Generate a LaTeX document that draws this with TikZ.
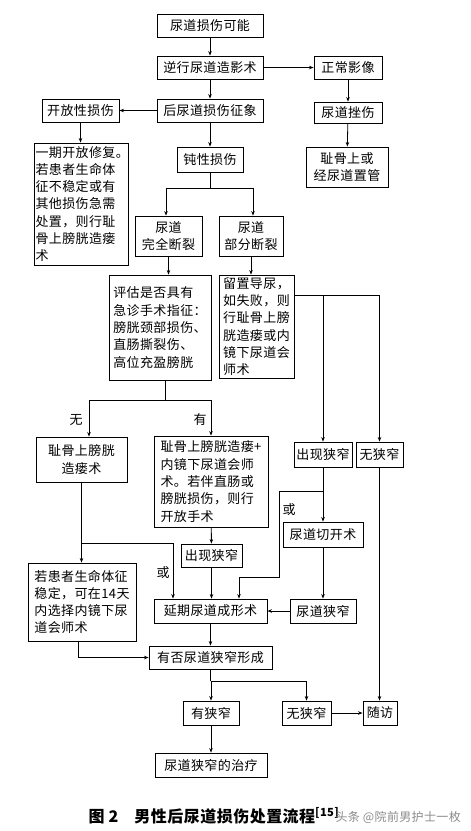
\documentclass[tikz,border=0pt]{standalone}
\usepackage{fontspec}
\setmainfont[LetterSpace=3]{Noto Sans CJK SC}
\usetikzlibrary{arrows.meta}

\begin{document}
\begin{tikzpicture}[x=1pt,y=-1pt,
  box/.style={draw,line width=0.9pt,inner sep=1.5pt,font=\fontsize{13}{17.3}\selectfont},
  txtbox/.style={box,align=left},
  link/.style={line width=0.8pt,-{Stealth[length=4.5pt,width=3.5pt]}},
  wire/.style={line width=0.8pt},
  lbl/.style={font=\fontsize{13}{15}\selectfont}]

\fill[white] (0,0) rectangle (471,831);
\useasboundingbox (0,0) rectangle (471,831);

% boxes
\node[box,minimum width=106,minimum height=23] (start) at (210,25.5) {尿道损伤可能};
\node[box,minimum width=106,minimum height=23] (rug) at (210,67.5) {逆行尿道造影术};
\node[box,minimum width=68,minimum height=23] (normal) at (348,67.5) {正常影像};
\node[box,minimum width=77,minimum height=23] (open) at (80.5,110.5) {开放性损伤};
\node[box,minimum width=106,minimum height=23] (post) at (210,110.5) {后尿道损伤征象};
\node[box,minimum width=68,minimum height=21] (contusion) at (348,112.5) {尿道挫伤};
\node[txtbox,text width=91,minimum height=122] (repair) at (81,204)
  {一期开放修复。\\若患者生命体\\征不稳定或有\\其他损伤急需\\处置，则行耻\\骨上膀胱造瘘\\术};
\node[box,minimum width=66,minimum height=25] (blunt) at (210,159.5) {钝性损伤};
\node[box,align=center,minimum width=82,minimum height=40] (catheter) at (347,167) {耻骨上或\\经尿道置管};
\node[box,align=center,minimum width=67,minimum height=40] (complete) at (168.5,236) {尿道\\完全断裂};
\node[box,align=center,minimum width=64,minimum height=40] (partial) at (251,236) {尿道\\部分断裂};
\node[txtbox,minimum width=102,minimum height=105] (assess) at (160,327.5)
  {评估是否具有\\急诊手术指征：\\膀胱颈部损伤、\\直肠撕裂伤、\\高位充盈膀胱};
\node[txtbox,minimum width=75,minimum height=103] (indwell) at (256.5,326.5)
  {留置导尿，\\如失败，则\\行耻骨上膀\\胱造瘘或内\\镜下尿道会\\师术};
\node[box,align=center,minimum width=91,minimum height=45] (cysto) at (81.5,459.5) {耻骨上膀胱\\造瘘术};
\node[txtbox,minimum width=114,minimum height=91] (combo) at (211,481.5)
  {耻骨上膀胱造瘘+\\内镜下尿道会师\\术。若伴直肠或\\膀胱损伤，则行\\开放手术};
\node[box,minimum width=58,minimum height=25] (strictR) at (323,454.5) {出现狭窄};
\node[box,minimum width=47,minimum height=25] (nostrR) at (379.5,454.5) {无狭窄};
\node[box,minimum width=80,minimum height=25] (urethrotomy) at (323,534.5) {尿道切开术};
\node[box,minimum width=61,minimum height=23] (strictM) at (211.5,555.5) {出现狭窄};
\node[txtbox,minimum width=108,minimum height=78] (stable) at (82,602)
  {若患者生命体征\\稳定，可在14天\\内选择内镜下尿\\道会师术};
\node[box,minimum width=113,minimum height=24] (delayed) at (210.5,611) {延期尿道成形术};
\node[box,minimum width=66,minimum height=24] (stricture) at (323,611) {尿道狭窄};
\node[box,minimum width=123,minimum height=23] (whether) at (210.5,657.5) {有否尿道狭窄形成};
\node[box,minimum width=56,minimum height=24] (yes) at (211,713) {有狭窄};
\node[box,minimum width=49,minimum height=24] (no) at (306.5,713) {无狭窄};
\node[box,minimum width=34,minimum height=24] (follow) at (380,713) {随访};
\node[box,minimum width=112,minimum height=24] (treat) at (211,765) {尿道狭窄的治疗};

% labels
\node[lbl] (nolbl) at (76,420) {无};
\node[lbl] (yeslbl) at (200,420) {有};
\node[lbl] (orleft) at (163,573) {或};
\node[lbl] (orright) at (289,510) {或};

% connectors
\draw[link] (start) -- (rug);
\draw[link] (rug) -- (normal);
\draw[link] (rug) -- (post);
\draw[link] (normal) -- (contusion);
\draw[link] (post) -- (open);
\draw[link] (contusion) -- (catheter);
\draw[link] (open.south) -- (open.south |- repair.north);
\draw[link] (post) -- (blunt);
\draw[wire] (blunt.south) -- ++(0,16) coordinate (bsplit);
\draw[link] (bsplit) -| ([xshift=-2.5pt]complete.north);
\draw[link] (bsplit) -| ([xshift=2pt]partial.north);
\draw[link] (complete.south) -- (complete.south |- assess.north);
\draw[link] (partial.south) -- (partial.south |- indwell.north);

\coordinate (iout) at ([yshift=-21pt]indwell.north east);
\draw[link] (iout) -| (nostrR.north);
\draw[link] (iout -| strictR.north) -- (strictR.north);

\draw[wire] ([xshift=5pt]assess.south) -- ++(0,20) coordinate (asplit);
\draw[link] (asplit) -| ([xshift=7.5pt]cysto.north);
\draw[link] (asplit) -| (combo.north);

\draw[link] (cysto.south) -- (cysto.south |- stable.north);
\path (cysto.south) ++(0,61) coordinate (cbranch);
\draw[link] (cbranch) -| ([xshift=-37.5pt]delayed.north);
\draw[link] (combo) -- (strictM);
\draw[link] (strictM) -- (strictM |- delayed.north);

\draw[link] (strictR) -- (urethrotomy);
\path (strictR.south) ++(0,24) coordinate (rbranch);
\draw[link] (rbranch) -- ++(-44,0) -- ++(0,86) -| ([xshift=28.5pt]delayed.north);
\draw[link] (urethrotomy) -- (stricture);
\draw[link] (stricture) -- (delayed);
\draw[link] (nostrR.south) -- (nostrR.south |- follow.north);

\draw[link] (delayed) -- (whether);
\draw[link] ([xshift=-4pt]stable.south) |- (whether.west);
\draw[wire] (whether.south) -- ++(0,12) coordinate (wsplit);
\draw[link] (wsplit) -| (yes.north);
\draw[link] (wsplit) -| (no.north);
\draw[link] (no) -- (follow);
\draw[link] (yes) -- (treat);

% caption
\node[anchor=west,font=\bfseries\fontsize{16}{18}\selectfont] (caption) at (85,816)
  {图 2\hspace{1em}男性后尿道损伤处置流程\textsuperscript{[15]}};
\node[anchor=west,text=black!45,font=\fontsize{12}{14}\selectfont] (mark) at (332,817) {头条 @院前男护士一枚};

\end{tikzpicture}
\end{document}
